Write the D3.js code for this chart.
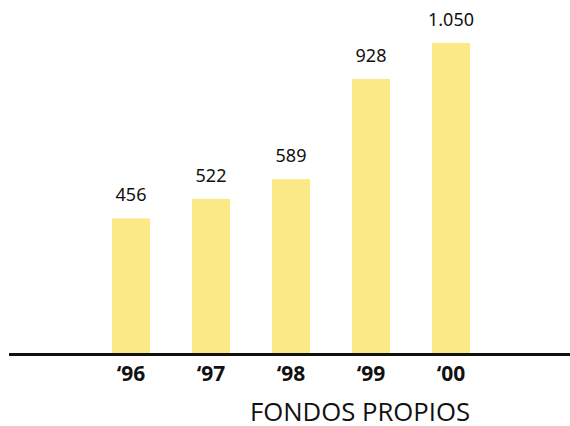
<!DOCTYPE html>
<html>
<head>
<meta charset="utf-8">
<script src="https://cdn.jsdelivr.net/npm/d3@7"></script>
<style>
  body { margin: 0; background: #fff; }
</style>
</head>
<body>
<div class="chart"></div>
<script>
var years = ["\u201896", "\u201897", "\u201898", "\u201899", "\u201800"];
var values = [456, 522, 589, 928, 1050];
var valueLabels = ["456", "522", "589", "928", "1.050"];
var title = "FONDOS PROPIOS";

var width = 570, height = 426;
var baseline = 353;

var svg = d3.select(".chart")
            .append("svg")
            .attr("width", width)
            .attr("height", height);

var x = d3.scaleBand()
          .domain(years)
          .range([91, 491])
          .paddingInner(0.525)
          .paddingOuter(0.2625);

var y = d3.scaleLinear()
          .domain([0, 1050])
          .range([baseline, 43]);

svg.selectAll("rect.bar")
   .data(values)
   .enter()
   .append("rect")
   .attr("class", "bar")
   .attr("x", function(d, i) { return x(years[i]); })
   .attr("width", x.bandwidth())
   .attr("y", function(d) { return y(d); })
   .attr("height", function(d) { return baseline - y(d); })
   .attr("fill", "#fbe986");

svg.selectAll("text.val")
   .data(values)
   .enter()
   .append("text")
   .attr("class", "val")
   .attr("x", function(d, i) { return x(years[i]) + x.bandwidth() / 2; })
   .attr("y", function(d) { return y(d) - 17; })
   .attr("text-anchor", "middle")
   .attr("font-family", "Noto Sans, sans-serif")
   .attr("font-size", "18px")
   .attr("fill", "#111")
   .text(function(d, i) { return valueLabels[i]; });

// axis line
svg.append("line")
   .attr("x1", 9)
   .attr("x2", width)
   .attr("y1", baseline + 1.5)
   .attr("y2", baseline + 1.5)
   .attr("stroke", "#111")
   .attr("stroke-width", 3);

var xAxis = d3.axisBottom(x).tickSize(0).tickPadding(0);

var ax = svg.append("g")
            .attr("transform", "translate(0," + baseline + ")")
            .call(xAxis);
ax.select(".domain").remove();
ax.selectAll("text")
  .attr("dy", null)
  .attr("y", 28)
  .attr("font-family", "Noto Sans, sans-serif")
  .attr("font-size", "21px")
  .attr("font-weight", "bold")
  .attr("fill", "#111");

svg.append("text")
   .attr("x", 250)
   .attr("y", 421)
   .attr("textLength", 220)
   .attr("lengthAdjust", "spacingAndGlyphs")
   .attr("font-family", "Open Sans, sans-serif")
   .attr("font-size", "26px")
   .attr("fill", "#111")
   .text(title);
</script>
</body>
</html>
